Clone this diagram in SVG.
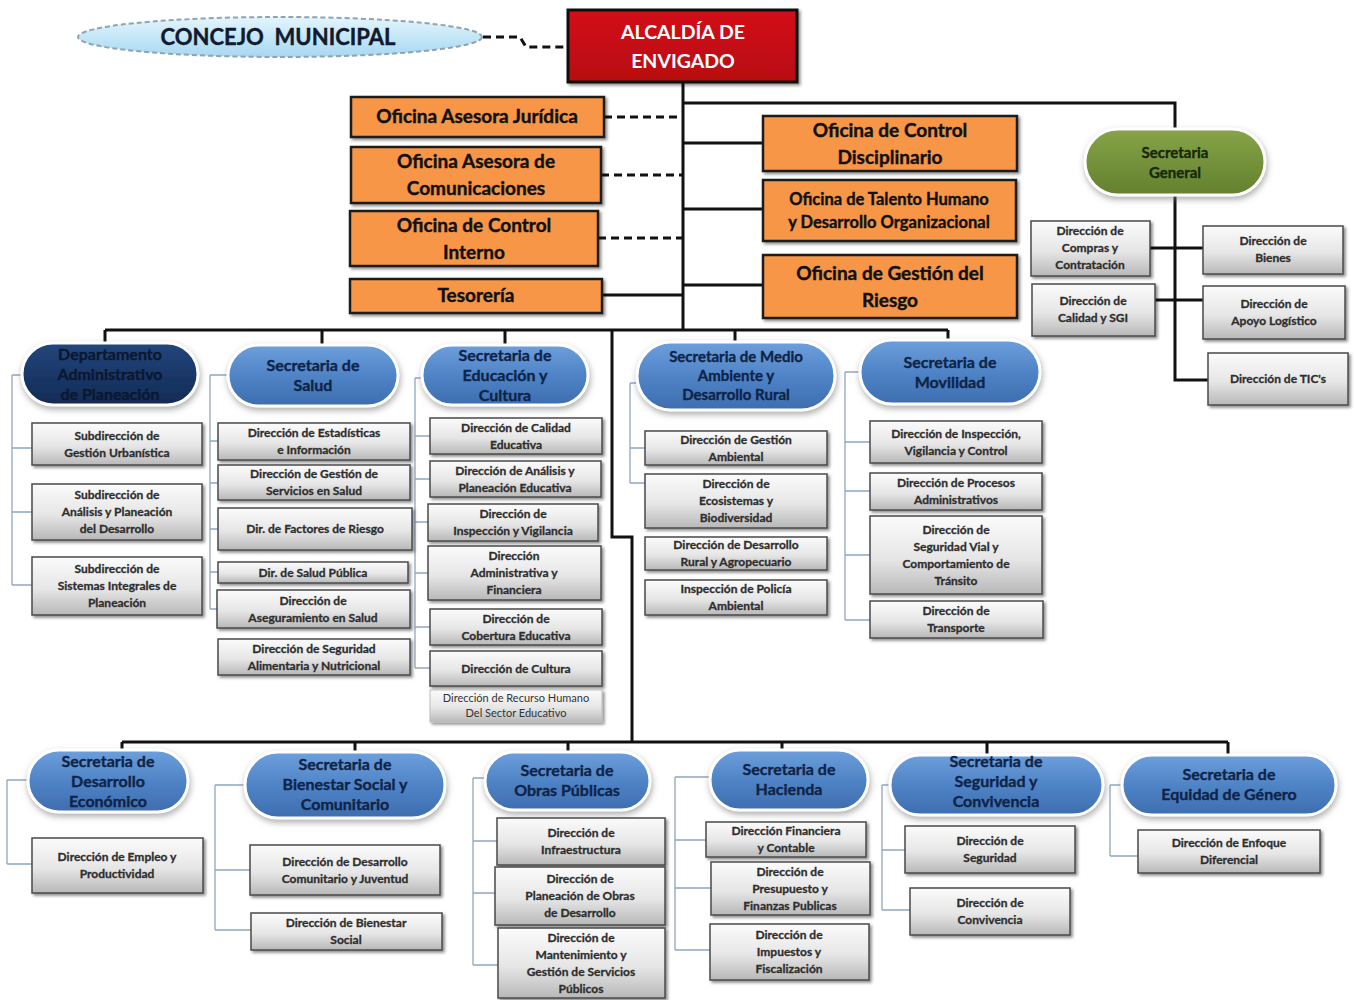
<svg xmlns="http://www.w3.org/2000/svg" width="1355" height="1000" viewBox="0 0 1355 1000">
<defs>
<linearGradient id="gg" x1="0" y1="0" x2="0" y2="1"><stop offset="0" stop-color="#fbfbfb"/><stop offset="0.55" stop-color="#e6e6e6"/><stop offset="1" stop-color="#b8b8b8"/></linearGradient>
<linearGradient id="bg" x1="0" y1="0" x2="0" y2="1"><stop offset="0" stop-color="#6e9fdc"/><stop offset="0.5" stop-color="#4f84c6"/><stop offset="1" stop-color="#3d6daf"/></linearGradient>
<linearGradient id="ng" x1="0" y1="0" x2="0" y2="1"><stop offset="0" stop-color="#24467c"/><stop offset="1" stop-color="#112a55"/></linearGradient>
<linearGradient id="grn" x1="0" y1="0" x2="0" y2="1"><stop offset="0" stop-color="#86a448"/><stop offset="1" stop-color="#63802e"/></linearGradient>
<linearGradient id="eg" x1="0" y1="0" x2="0" y2="1"><stop offset="0" stop-color="#e4f5fd"/><stop offset="1" stop-color="#a6d8f1"/></linearGradient>
<linearGradient id="rg" x1="0" y1="0" x2="0" y2="1"><stop offset="0" stop-color="#d3101a"/><stop offset="1" stop-color="#b80710"/></linearGradient>
<filter id="sh" x="-10%" y="-20%" width="125%" height="150%"><feDropShadow dx="2" dy="2" stdDeviation="1.5" flood-color="#000" flood-opacity="0.45"/></filter>
<filter id="glow" x="-10%" y="-20%" width="125%" height="150%"><feDropShadow dx="1" dy="3" stdDeviation="3" flood-color="#777" flood-opacity="0.6"/></filter>
</defs>
<style>
.g rect{fill:url(#gg);stroke:#4a4a4a;stroke-width:1.5;filter:url(#sh)}
.g text{font-family:Lato,"Liberation Sans",sans-serif;font-size:12px;font-weight:bold;fill:#2e2e2e;stroke:#2e2e2e;stroke-width:0.3;text-anchor:middle}
.o rect{fill:#f79646;stroke:#1a1a1a;stroke-width:2.5;filter:url(#sh)}
.o text{font-family:Lato,"Liberation Sans",sans-serif;font-size:19px;font-weight:bold;fill:#111;stroke:#111;stroke-width:0.4;text-anchor:middle}
.p rect{fill:url(#bg);stroke:#fff;stroke-width:3;filter:url(#glow)}
.p text{font-family:Lato,"Liberation Sans",sans-serif;font-size:16px;font-weight:bold;fill:#0f2448;stroke:#0f2448;stroke-width:0.35;text-anchor:middle}
.thick{stroke:#111;stroke-width:3;fill:none}
.dash{stroke:#111;stroke-width:3;fill:none;stroke-dasharray:8 5}
.thin{stroke:#8fa6c2;stroke-width:1.3;fill:none}
</style>
<rect width="1355" height="1000" fill="#fff"/>

<g id="connectors">
<path class="dash" d="M483 37 H520 L526 47 H568"/>
<path class="thick" d="M683 82 V330 M683 103 H1175 V129"/>
<path class="dash" d="M604 117 H683 M601 175 H683 M598 238 H683"/>
<path class="thick" d="M602 295 H683 M683 143 H763 M683 209 H763 M683 285 H763"/>
<path class="thick" d="M1175 195 V380 H1208 M1150 248 H1203 M1155 300 H1203"/>
<path class="thick" d="M105 330 H948 M105 330 V343 M322 330 V345 M505 330 V345 M735 330 V342 M948 330 V340"/>
<path class="thick" d="M612 330 V537 H632 V742"/>
<path class="thick" d="M122 742 H1228 M122 742 V750 M355 742 V752 M568 742 V752 M782 742 V750 M987 742 V755 M1228 742 V755"/>
<path class="thin" d="M12 375 V585 M12 375 H22 M12 448 H32 M12 512 H32 M12 585 H32"/>
<path class="thin" d="M210 375 V609 M210 375 H228 M210 441 H218 M210 483 H218 M210 529 H218 M210 572 H218 M210 609 H217"/>
<path class="thin" d="M415 378 V668 M415 378 H422 M415 436 H430 M415 479 H430 M415 522 H428 M415 573 H428 M415 627 H430 M415 668 H430"/>
<path class="thin" d="M630 383 V483 M630 383 H637 M630 448 H645 M630 483 H645"/>
<path class="thin" d="M845 372 V620 M845 372 H860 M845 442 H870 M845 491 H870 M845 555 H870 M845 620 H870"/>
<path class="thin" d="M7 780 V864 M7 780 H28 M7 864 H32"/>
<path class="thin" d="M215 785 V930 M215 785 H245 M215 870 H250 M215 930 H251"/>
<path class="thin" d="M473 778 V965 M473 778 H485 M473 841 H497 M473 893 H495 M473 965 H498"/>
<path class="thin" d="M675 777 V950 M675 777 H710 M675 840 H706 M675 888 H711 M675 950 H710"/>
<path class="thin" d="M882 785 V910 M882 785 H890 M882 850 H905 M882 910 H910"/>
<path class="thin" d="M1110 785 V856 M1110 785 H1122 M1110 856 H1138"/>
</g>

<g id="concejo">
<ellipse cx="280" cy="37" rx="202" ry="20" fill="url(#eg)" stroke="#8fa3b3" stroke-width="2" stroke-dasharray="5 3"/>
<text x="278" y="45" font-family="Lato,'Liberation Sans',sans-serif" font-size="22" font-weight="bold" fill="#111a2e" stroke="#111a2e" stroke-width="0.4" text-anchor="middle" xml:space="preserve">CONCEJO  MUNICIPAL</text>
</g>
<g id="alcaldia">
<rect x="568" y="10" width="229" height="72" fill="url(#rg)" stroke="#111" stroke-width="3" filter="url(#sh)"/>
<text x="683" y="39" font-family="Lato,'Liberation Sans',sans-serif" font-size="19.5" font-weight="bold" fill="#fff" text-anchor="middle">ALCALDÍA DE</text>
<text x="683" y="68" font-family="Lato,'Liberation Sans',sans-serif" font-size="19.5" font-weight="bold" fill="#fff" text-anchor="middle">ENVIGADO</text>
</g>

<g id="of-juridica" class="o"><rect x="351" y="97" width="253" height="40"/><text x="477" y="123">Oficina Asesora Jurídica</text></g>
<g id="of-comunicaciones" class="o"><rect x="351" y="147" width="250" height="56"/><text x="476" y="168">Oficina Asesora de</text><text x="476" y="195">Comunicaciones</text></g>
<g id="of-control-interno" class="o"><rect x="350" y="211" width="248" height="55"/><text x="474" y="232">Oficina de Control</text><text x="474" y="259">Interno</text></g>
<g id="tesoreria" class="o"><rect x="350" y="279" width="252" height="34"/><text x="476" y="302">Tesorería</text></g>
<g id="of-control-disciplinario" class="o"><rect x="763" y="116" width="254" height="55"/><text x="890" y="137">Oficina de Control</text><text x="890" y="164">Disciplinario</text></g>
<g id="of-talento" class="o"><rect x="763" y="180" width="253" height="61"/><text x="889" y="205" style="font-size:16.5px">Oficina de Talento Humano</text><text x="889" y="228" style="font-size:16.5px">y Desarrollo Organizacional</text></g>
<g id="of-riesgo" class="o"><rect x="763" y="255" width="254" height="63"/><text x="890" y="280">Oficina de Gestión del</text><text x="890" y="307">Riesgo</text></g>

<g id="sec-general" class="p"><rect x="1085" y="129" width="180" height="66" rx="33" style="fill:url(#grn)"/><text x="1175" y="158" style="font-size:15px;fill:#18280a;stroke:#18280a">Secretaria</text><text x="1175" y="178" style="font-size:15px;fill:#18280a;stroke:#18280a">General</text></g>
<g id="dir-compras" class="g"><rect x="1031" y="221" width="119" height="55"/><text x="1090" y="235">Dirección de</text><text x="1090" y="252">Compras y</text><text x="1090" y="269">Contratación</text></g>
<g id="dir-bienes" class="g"><rect x="1203" y="226" width="140" height="48"/><text x="1273" y="245">Dirección de</text><text x="1273" y="262">Bienes</text></g>
<g id="dir-calidad" class="g"><rect x="1032" y="284" width="123" height="52"/><text x="1093" y="305">Dirección de</text><text x="1093" y="322">Calidad y SGI</text></g>
<g id="dir-apoyo" class="g"><rect x="1203" y="286" width="142" height="53"/><text x="1274" y="308">Dirección de</text><text x="1274" y="325">Apoyo Logístico</text></g>
<g id="dir-tics" class="g"><rect x="1208" y="353" width="140" height="52"/><text x="1278" y="383">Dirección de TIC's</text></g>

<g id="dep-planeacion" class="p"><rect x="22" y="343" width="176" height="62" rx="31" style="fill:url(#ng)"/><text x="110" y="360" style="fill:#0a1830;stroke:#0a1830">Departamento</text><text x="110" y="380" style="fill:#0a1830;stroke:#0a1830">Administrativo</text><text x="110" y="400" style="fill:#0a1830;stroke:#0a1830">de Planeación</text></g>
<g id="sub-gestion-urb" class="g"><rect x="32" y="423" width="170" height="42"/><text x="117" y="439.5">Subdirección de</text><text x="117" y="456.5">Gestión Urbanística</text></g>
<g id="sub-analisis" class="g"><rect x="32" y="484" width="170" height="56"/><text x="117" y="499">Subdirección de</text><text x="117" y="516">Análisis y Planeación</text><text x="117" y="533">del Desarrollo</text></g>
<g id="sub-sistemas" class="g"><rect x="32" y="557" width="170" height="58"/><text x="117" y="573">Subdirección de</text><text x="117" y="590">Sistemas Integrales de</text><text x="117" y="607">Planeación</text></g>

<g id="sec-salud" class="p"><rect x="228" y="345" width="170" height="61" rx="30.5"/><text x="313" y="371">Secretaria de</text><text x="313" y="391">Salud</text></g>
<g id="dir-estadisticas" class="g"><rect x="218" y="423" width="192" height="37"/><text x="314" y="437">Dirección de Estadísticas</text><text x="314" y="454">e Información</text></g>
<g id="dir-servicios-salud" class="g"><rect x="218" y="465" width="192" height="35"/><text x="314" y="478">Dirección de Gestión de</text><text x="314" y="495">Servicios en Salud</text></g>
<g id="dir-factores" class="g"><rect x="218" y="508" width="194" height="42"/><text x="315" y="533">Dir. de Factores de Riesgo</text></g>
<g id="dir-salud-publica" class="g"><rect x="218" y="562" width="190" height="21"/><text x="313" y="577">Dir. de Salud Pública</text></g>
<g id="dir-aseguramiento" class="g"><rect x="217" y="590" width="193" height="38"/><text x="313" y="604.5">Dirección de</text><text x="313" y="621.5">Aseguramiento en Salud</text></g>
<g id="dir-seg-alimentaria" class="g"><rect x="218" y="639" width="192" height="36"/><text x="314" y="652.5">Dirección de Seguridad</text><text x="314" y="669.5">Alimentaria y Nutricional</text></g>

<g id="sec-educacion" class="p"><rect x="422" y="345" width="166" height="60" rx="30"/><text x="505" y="361">Secretaria de</text><text x="505" y="381">Educación y</text><text x="505" y="401">Cultura</text></g>
<g id="dir-calidad-edu" class="g"><rect x="430" y="418" width="172" height="36"/><text x="516" y="431.5">Dirección de Calidad</text><text x="516" y="448.5">Educativa</text></g>
<g id="dir-analisis-edu" class="g"><rect x="430" y="461" width="171" height="36"/><text x="515" y="474.5">Dirección de Análisis y</text><text x="515" y="491.5">Planeación Educativa</text></g>
<g id="dir-inspeccion-edu" class="g"><rect x="428" y="504" width="170" height="37"/><text x="513" y="518">Dirección de</text><text x="513" y="535">Inspección y Vigilancia</text></g>
<g id="dir-admin-fin" class="g"><rect x="428" y="546" width="173" height="54"/><text x="514" y="560">Dirección</text><text x="514" y="577">Administrativa y</text><text x="514" y="594">Financiera</text></g>
<g id="dir-cobertura" class="g"><rect x="430" y="609" width="172" height="36"/><text x="516" y="622.5">Dirección de</text><text x="516" y="639.5">Cobertura Educativa</text></g>
<g id="dir-cultura" class="g"><rect x="430" y="651" width="172" height="35"/><text x="516" y="672.5">Dirección de Cultura</text></g>
<g id="dir-recurso-humano" class="g"><rect x="430" y="690" width="172" height="32" style="stroke:#bdbdbd;stroke-width:1"/><text x="516" y="702" style="font-size:11px;font-weight:normal;fill:#333;stroke:none">Dirección de Recurso Humano</text><text x="516" y="717" style="font-size:11px;font-weight:normal;fill:#333;stroke:none">Del Sector Educativo</text></g>

<g id="sec-medio-ambiente" class="p"><rect x="637" y="342" width="198" height="68" rx="34"/><text x="736" y="362" style="font-size:15px">Secretaria de Medio</text><text x="736" y="381" style="font-size:15px">Ambiente y</text><text x="736" y="400" style="font-size:15px">Desarrollo Rural</text></g>
<g id="dir-gestion-amb" class="g"><rect x="645" y="431" width="182" height="34"/><text x="736" y="443.5">Dirección de Gestión</text><text x="736" y="460.5">Ambiental</text></g>
<g id="dir-ecosistemas" class="g"><rect x="645" y="474" width="182" height="54"/><text x="736" y="488">Dirección de</text><text x="736" y="505">Ecosistemas y</text><text x="736" y="522">Biodiversidad</text></g>
<g id="dir-desarrollo-rural" class="g"><rect x="645" y="537" width="182" height="33"/><text x="736" y="549">Dirección de Desarrollo</text><text x="736" y="566">Rural y Agropecuario</text></g>
<g id="insp-policia" class="g"><rect x="645" y="580" width="182" height="35"/><text x="736" y="593">Inspección de Policía</text><text x="736" y="610">Ambiental</text></g>

<g id="sec-movilidad" class="p"><rect x="860" y="340" width="180" height="64" rx="32"/><text x="950" y="368">Secretaria de</text><text x="950" y="388">Movilidad</text></g>
<g id="dir-ivc" class="g"><rect x="870" y="421" width="172" height="42"/><text x="956" y="437.5">Dirección de Inspección,</text><text x="956" y="454.5">Vigilancia y Control</text></g>
<g id="dir-procesos" class="g"><rect x="870" y="473" width="172" height="37"/><text x="956" y="487">Dirección de Procesos</text><text x="956" y="504">Administrativos</text></g>
<g id="dir-seg-vial" class="g"><rect x="870" y="516" width="172" height="78"/><text x="956" y="533.5">Dirección de</text><text x="956" y="550.5">Seguridad Vial y</text><text x="956" y="567.5">Comportamiento de</text><text x="956" y="584.5">Tránsito</text></g>
<g id="dir-transporte" class="g"><rect x="870" y="601" width="173" height="37"/><text x="956" y="615">Dirección de</text><text x="956" y="632">Transporte</text></g>

<g id="sec-des-economico" class="p"><rect x="28" y="750" width="160" height="62" rx="31"/><text x="108" y="767">Secretaria de</text><text x="108" y="787">Desarrollo</text><text x="108" y="807">Económico</text></g>
<g id="dir-empleo" class="g"><rect x="32" y="838" width="171" height="55"/><text x="117" y="861">Dirección de Empleo y</text><text x="117" y="878">Productividad</text></g>

<g id="sec-bienestar" class="p"><rect x="245" y="752" width="200" height="66" rx="33"/><text x="345" y="770">Secretaria de</text><text x="345" y="790">Bienestar Social y</text><text x="345" y="810">Comunitario</text></g>
<g id="dir-des-comunitario" class="g"><rect x="250" y="845" width="190" height="50"/><text x="345" y="865.5">Dirección de Desarrollo</text><text x="345" y="882.5">Comunitario y Juventud</text></g>
<g id="dir-bienestar-social" class="g"><rect x="251" y="913" width="191" height="37"/><text x="346" y="927">Dirección de Bienestar</text><text x="346" y="944">Social</text></g>

<g id="sec-obras" class="p"><rect x="485" y="752" width="165" height="58" rx="29"/><text x="567" y="776">Secretaria de</text><text x="567" y="796">Obras Públicas</text></g>
<g id="dir-infraestructura" class="g"><rect x="497" y="818" width="168" height="47"/><text x="581" y="837">Dirección de</text><text x="581" y="854">Infraestructura</text></g>
<g id="dir-planeacion-obras" class="g"><rect x="495" y="867" width="170" height="58"/><text x="580" y="883">Dirección de</text><text x="580" y="900">Planeación de Obras</text><text x="580" y="917">de Desarrollo</text></g>
<g id="dir-mantenimiento" class="g"><rect x="498" y="928" width="167" height="70"/><text x="581" y="941.5">Dirección de</text><text x="581" y="958.5">Mantenimiento y</text><text x="581" y="975.5">Gestión de Servicios</text><text x="581" y="992.5">Públicos</text></g>

<g id="sec-hacienda" class="p"><rect x="710" y="750" width="158" height="60" rx="30"/><text x="789" y="775">Secretaria de</text><text x="789" y="795">Hacienda</text></g>
<g id="dir-financiera" class="g"><rect x="706" y="822" width="160" height="35"/><text x="786" y="835">Dirección Financiera</text><text x="786" y="852">y Contable</text></g>
<g id="dir-presupuesto" class="g"><rect x="711" y="862" width="159" height="53"/><text x="790" y="875.5">Dirección de</text><text x="790" y="892.5">Presupuesto y</text><text x="790" y="909.5">Finanzas Publicas</text></g>
<g id="dir-impuestos" class="g"><rect x="710" y="924" width="159" height="56"/><text x="789" y="939">Dirección de</text><text x="789" y="956">Impuestos y</text><text x="789" y="973">Fiscalización</text></g>

<g id="sec-seguridad" class="p"><rect x="890" y="755" width="213" height="60" rx="30"/><text x="996" y="767">Secretaria de</text><text x="996" y="787">Seguridad y</text><text x="996" y="807">Convivencia</text></g>
<g id="dir-seguridad" class="g"><rect x="905" y="826" width="170" height="47"/><text x="990" y="845">Dirección de</text><text x="990" y="862">Seguridad</text></g>
<g id="dir-convivencia" class="g"><rect x="910" y="888" width="160" height="47"/><text x="990" y="907">Dirección de</text><text x="990" y="924">Convivencia</text></g>

<g id="sec-equidad" class="p"><rect x="1122" y="755" width="214" height="60" rx="30"/><text x="1229" y="780">Secretaria de</text><text x="1229" y="800">Equidad de Género</text></g>
<g id="dir-enfoque" class="g"><rect x="1138" y="830" width="182" height="43"/><text x="1229" y="847">Dirección de Enfoque</text><text x="1229" y="864">Diferencial</text></g>
</svg>
